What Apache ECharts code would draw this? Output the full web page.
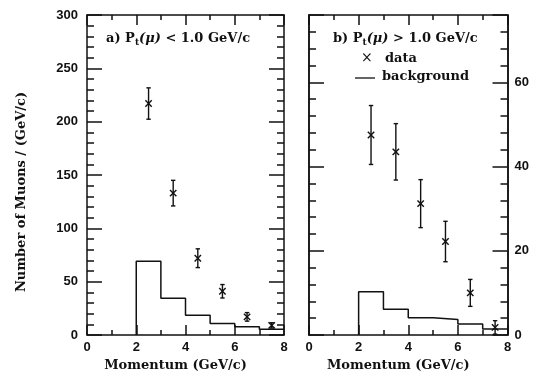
<!DOCTYPE html>
<html>
<head>
<meta charset="utf-8">
<script src="https://cdn.jsdelivr.net/npm/echarts@6/dist/echarts.min.js"></script>
<style>html,body{margin:0;padding:0;background:#fff}#c{width:534px;height:377px}</style>
</head>
<body>
<div id="c"></div>
<script>
// ---- data ----
const binCenters = [2.5, 3.5, 4.5, 5.5, 6.5, 7.5];
const binEdges = [2, 3, 4, 5, 6, 7, 8];
const dataA = [217, 133, 72, 41, 17, 9];
const errA = [14.7, 12, 8.8, 6.3, 4, 2.5];
const bgA = [69.2, 34.5, 18.5, 10.8, 7.7, 5.5];
const dataB = [47.5, 43.5, 31.2, 22.2, 10, 1.8];
const errB = [7, 6.7, 5.7, 4.8, 3.2, 1.6];
const bgB = [10.3, 6.1, 4.1, 3.7, 2.6, 1.4];
const xTickLabels = ['0', '2', '4', '6', '8'];
const yTicksA = [0, 50, 100, 150, 200, 250, 300];
const yTicksB = [0, 20, 40, 60];

const chart = echarts.init(document.getElementById('c'), null, {renderer: 'canvas'});
const INK = '#111';
const tickFont = {fontFamily: 'Liberation Sans', fontWeight: 'bold', fontSize: 13, color: INK};
const nameFont = {fontFamily: 'DejaVu Serif', fontWeight: 'bold', fontSize: 13, color: INK};

function errSeries(vals, errs) {
  return binCenters.map((x, i) => [x, vals[i], errs[i]]);
}
function stepSeries(bg) {
  return [[binEdges[0], 0]].concat(bg.map((v, i) => [binEdges[i + 1], v]));
}
function renderErr(params, api) {
  const x = api.value(0), y = api.value(1), e = api.value(2);
  const c = api.coord([x, y]);
  const t = api.coord([x, y + e]);
  const b = api.coord([x, Math.max(0, y - e)]);
  const st = {stroke: INK, lineWidth: 1.4};
  const cap = 2.2, m = 3.2;
  return {type: 'group', children: [
    {type: 'line', shape: {x1: c[0], y1: t[1], x2: c[0], y2: b[1]}, style: st},
    {type: 'line', shape: {x1: c[0] - cap, y1: t[1], x2: c[0] + cap, y2: t[1]}, style: st},
    {type: 'line', shape: {x1: c[0] - cap, y1: b[1], x2: c[0] + cap, y2: b[1]}, style: st},
    {type: 'line', shape: {x1: c[0] - m, y1: c[1] - m, x2: c[0] + m, y2: c[1] + m}, style: st},
    {type: 'line', shape: {x1: c[0] - m, y1: c[1] + m, x2: c[0] + m, y2: c[1] - m}, style: st}
  ]};
}

const lineSt = {color: INK, width: 1.5};
function xAx(grid, pos, labels, name) {
  return {
    gridIndex: grid, type: 'value', position: pos, min: 0, max: 8, interval: 2,
    axisLine: {show: true, onZero: false, lineStyle: lineSt},
    axisTick: {show: true, inside: true, length: 10, lineStyle: lineSt},
    minorTick: {show: true, splitNumber: 2, length: 5, lineStyle: lineSt},
    splitLine: {show: false},
    axisLabel: {show: labels, margin: 6, ...tickFont},
    name: name || '', nameLocation: 'middle', nameGap: 24,
    nameTextStyle: {...nameFont, padding: [0, 20, 0, 0]}
  };
}
function yAx(grid, pos, max, interval, len, labels, minorSplit, extra) {
  return Object.assign({
    gridIndex: grid, type: 'value', position: pos, min: 0, max: max, interval: interval,
    axisLine: {show: true, onZero: false, lineStyle: lineSt},
    axisTick: {show: true, inside: true, length: len, lineStyle: lineSt},
    minorTick: {show: !!minorSplit, splitNumber: minorSplit || 5, length: 7, lineStyle: lineSt},
    splitLine: {show: false},
    axisLabel: {show: labels, margin: 9, ...tickFont}
  }, extra || {});
}

const subRich = {
  n: {...nameFont},
  g: {...nameFont, fontStyle: 'italic', fontWeight: 'bold'},
  s: {...nameFont, fontSize: 9, padding: [8, 0, 0, 0]}
};

const option = {
  animation: false,
  backgroundColor: '#fff',
  grid: [
    {left: 87, right: 250, top: 15, bottom: 37},
    {left: 309, right: 26.5, top: 15, bottom: 37}
  ],
  xAxis: [
    xAx(0, 'bottom', true, 'Momentum (GeV/c)'),
    xAx(0, 'top', false),
    xAx(1, 'bottom', true, 'Momentum (GeV/c)'),
    xAx(1, 'top', false)
  ],
  yAxis: [
    yAx(0, 'left', 300, 50, 15, true, 5),
    yAx(0, 'right', 300, 50, 15, false, 5),
    yAx(1, 'left', 76, 4, 7, false, 0),
    yAx(1, 'left', 76, 20, 15, false, 0),
    yAx(1, 'right', 76, 4, 7, false, 0),
    yAx(1, 'right', 76, 20, 15, true, 0, {
      axisLabel: {show: true, margin: 7, ...tickFont,
        formatter: v => (yTicksB.indexOf(v) >= 0 ? String(v) : '')}
    })
  ],
  title: [
    {text: '{n|a) P}{s|t}{g|(μ)}{n| < 1.0 GeV/c}', left: 106, top: 30,
     padding: 0, textStyle: {rich: subRich}},
    {text: '{n|b) P}{s|t}{g|(μ)}{n| > 1.0 GeV/c}', left: 333, top: 30,
     padding: 0, textStyle: {rich: subRich}},
    {text: 'data', left: 385, top: 52, padding: 0, textStyle: {...nameFont}},
    {text: 'background', left: 382, top: 70, padding: 0, textStyle: {...nameFont}},
    {text: '×', left: 361, top: 51, padding: 0, textStyle: {...nameFont, fontWeight: 'normal', fontSize: 14}}
  ],
  graphic: [
    {type: 'line', shape: {x1: 355, y1: 78, x2: 375, y2: 78}, style: {stroke: INK, lineWidth: 1.3}},
    {type: 'text', x: 22, y: 192, rotation: Math.PI / 2,
     style: {text: 'Number of Muons / (GeV/c)', align: 'center', verticalAlign: 'middle',
       font: 'bold 13px "DejaVu Serif"', fill: INK}}
  ],
  series: [
    {type: 'line', xAxisIndex: 0, yAxisIndex: 0, data: stepSeries(bgA), step: 'start',
     showSymbol: false, symbol: 'none', lineStyle: {color: INK, width: 1.5}, silent: true},
    {type: 'custom', xAxisIndex: 0, yAxisIndex: 0, data: errSeries(dataA, errA), renderItem: renderErr},
    {type: 'line', xAxisIndex: 2, yAxisIndex: 3, data: stepSeries(bgB), step: 'start',
     showSymbol: false, symbol: 'none', lineStyle: {color: INK, width: 1.5}, silent: true},
    {type: 'custom', xAxisIndex: 2, yAxisIndex: 3, data: errSeries(dataB, errB), renderItem: renderErr}
  ]
};
chart.setOption(option);
</script>
</body>
</html>
